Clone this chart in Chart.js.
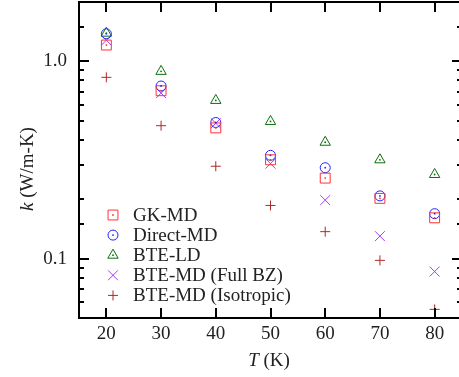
<!DOCTYPE html>
<html lang="en">
<head>
  <meta charset="UTF-8" />
  <title>Thermal conductivity vs T</title>
  <script src="https://cdn.jsdelivr.net/npm/chart.js"></script>
  <style>
    html, body {
      margin: 0;
      padding: 0;
      background: #fff;
      overflow: hidden;
    }
    #wrap {
      width: 459px;
      height: 377px;
      overflow: hidden;
    }
  </style>
</head>
<body>
  <div id="wrap">
    <canvas id="kChart" width="463" height="377"></canvas>
  </div>

  <script>
    // temperatures (K)
    const temps = [20, 30, 40, 50, 60, 70, 80];

    // k (W/m-K)
    const gkMD     = [1.21, 0.71, 0.46, 0.317, 0.256, 0.202, 0.161];
    const directMD = [1.38, 0.75, 0.49, 0.334, 0.289, 0.208, 0.169];
    const bteLD    = [1.39, 0.89, 0.634, 0.496, 0.389, 0.317, 0.267];
    const bteFull  = [1.28, 0.69, 0.486, 0.303, 0.198, 0.130, 0.086];
    const bteIso   = [0.83, 0.472, 0.294, 0.186, 0.137, 0.098, 0.0553];

    const xTicks = [20, 30, 40, 50, 60, 70, 80];
    const yLabels = ['0.1', '1.0'];

    const FONT = "'Liberation Serif', 'DejaVu Serif', serif";
    const TEXT = '#222';

    function pts(vals) {
      return temps.map((t, i) => ({ x: t, y: vals[i] }));
    }

    function series(label, vals, color, style, radius, dot) {
      return {
        label: label,
        data: pts(vals),
        showLine: false,
        pointStyle: style,
        pointRadius: radius,
        pointBorderWidth: 1,
        pointBorderColor: color,
        pointBackgroundColor: 'rgba(0,0,0,0)',
        centerDot: dot
      };
    }

    const datasets = [
      series('GK-MD', gkMD, '#ff3333', 'rect', 7, true),
      series('Direct-MD', directMD, '#2222ff', 'circle', 5, true),
      series('BTE-LD', bteLD, '#0b700b', 'triangle', 6, true),
      series('BTE-MD (Full BZ)', bteFull, '#a33cf5', 'crossRot', 7, false),
      series('BTE-MD (Isotropic)', bteIso, '#b02828', 'cross', 5, false)
    ];

    function isDecade(v) {
      const l = Math.log10(v);
      return Math.abs(l - Math.round(l)) < 1e-6;
    }

    // frame, inward ticks, center dots, legend and axis titles
    const decor = {
      id: 'decor',
      afterDatasetsDraw(chart) {
        const ctx = chart.ctx;
        const a = chart.chartArea;
        const xs = chart.scales.x;
        const ys = chart.scales.y;
        ctx.save();

        // center dots
        chart.data.datasets.forEach((ds, i) => {
          if (!ds.centerDot) return;
          ctx.fillStyle = ds.pointBorderColor;
          chart.getDatasetMeta(i).data.forEach(p => {
            ctx.beginPath();
            ctx.arc(p.x, p.y, 0.9, 0, Math.PI * 2);
            ctx.fill();
          });
        });

        // ticks
        ctx.strokeStyle = '#000';
        ctx.lineWidth = 2;
        ctx.beginPath();
        xs.ticks.forEach(t => {
          const px = Math.round(xs.getPixelForValue(t.value));
          ctx.moveTo(px, a.bottom); ctx.lineTo(px, a.bottom - 10);
          ctx.moveTo(px, a.top); ctx.lineTo(px, a.top + 10);
        });
        ys.ticks.forEach(t => {
          const py = Math.round(ys.getPixelForValue(t.value));
          const len = isDecade(t.value) ? 10 : 5;
          ctx.moveTo(a.left, py); ctx.lineTo(a.left + len, py);
          ctx.moveTo(a.right, py); ctx.lineTo(a.right - len, py);
        });
        ctx.stroke();
        ctx.strokeRect(a.left, a.top, a.right - a.left, a.bottom - a.top);

        // legend
        ctx.font = '19px ' + FONT;
        ctx.textBaseline = 'middle';
        ctx.textAlign = 'left';
        chart.data.datasets.forEach((ds, i) => {
          const y = 215 + i * 20.1;
          ctx.strokeStyle = ds.pointBorderColor;
          ctx.fillStyle = 'rgba(0,0,0,0)';
          ctx.lineWidth = 1;
          Chart.helpers.drawPoint(ctx, {
            pointStyle: ds.pointStyle,
            radius: ds.pointRadius,
            borderWidth: 1,
            rotation: 0
          }, 113, y);
          if (ds.centerDot) {
            ctx.fillStyle = ds.pointBorderColor;
            ctx.beginPath();
            ctx.arc(113, y, 0.9, 0, Math.PI * 2);
            ctx.fill();
          }
          ctx.fillStyle = TEXT;
          ctx.fillText(ds.label, 133, y + 1);
        });

        // axis titles with italic symbols
        function mixed(parts, cx, cy) {
          ctx.textAlign = 'left';
          ctx.textBaseline = 'alphabetic';
          let total = 0;
          parts.forEach(p => {
            ctx.font = p[1] + ' 19px ' + FONT;
            p.w = ctx.measureText(p[0]).width;
            total += p.w;
          });
          let x = cx - total / 2;
          parts.forEach(p => {
            ctx.font = p[1] + ' 19px ' + FONT;
            ctx.fillText(p[0], x, cy);
            x += p.w;
          });
        }
        ctx.fillStyle = TEXT;
        mixed([['T', 'italic'], [' (K)', 'normal']], 269, 366);
        ctx.save();
        ctx.translate(33, 169);
        ctx.rotate(-Math.PI / 2);
        mixed([['k', 'italic'], [' (W/m-K)', 'normal']], 0, 0);
        ctx.restore();

        ctx.restore();
      }
    };

    new Chart(document.getElementById('kChart'), {
      type: 'scatter',
      data: { datasets: datasets },
      plugins: [decor],
      options: {
        responsive: false,
        animation: false,
        events: [],
        layout: { autoPadding: false, padding: { top: 2, right: 1, left: 0, bottom: 0 } },
        plugins: {
          legend: { display: false },
          tooltip: { enabled: false }
        },
        scales: {
          x: {
            type: 'linear',
            min: 15,
            max: 85,
            grid: { display: false, drawTicks: false },
            border: { display: false },
            afterFit: s => {
              s.height = 59;
              s.paddingLeft = 0; s.paddingRight = 0;
              s.paddingTop = 0; s.paddingBottom = 0;
            },
            afterBuildTicks: s => { s.ticks = xTicks.map(v => ({ value: v })); },
            ticks: {
              autoSkip: false,
              padding: 5,
              color: TEXT,
              font: { family: FONT, size: 19 },
              callback: v => String(v)
            }
          },
          y: {
            type: 'logarithmic',
            min: 0.05,
            max: 2,
            grid: { display: false, drawTicks: false },
            border: { display: false },
            afterFit: s => {
              s.width = 79;
              s.paddingLeft = 0; s.paddingRight = 0;
              s.paddingTop = 0; s.paddingBottom = 0;
            },
            ticks: {
              autoSkip: false,
              padding: 12,
              color: TEXT,
              font: { family: FONT, size: 19 },
              callback: v => {
                if (!isDecade(v)) return '';
                const s = v >= 1 ? v.toFixed(1) : String(+v.toPrecision(1));
                return yLabels.includes(s) ? s : '';
              }
            }
          }
        }
      }
    });
  </script>
</body>
</html>
